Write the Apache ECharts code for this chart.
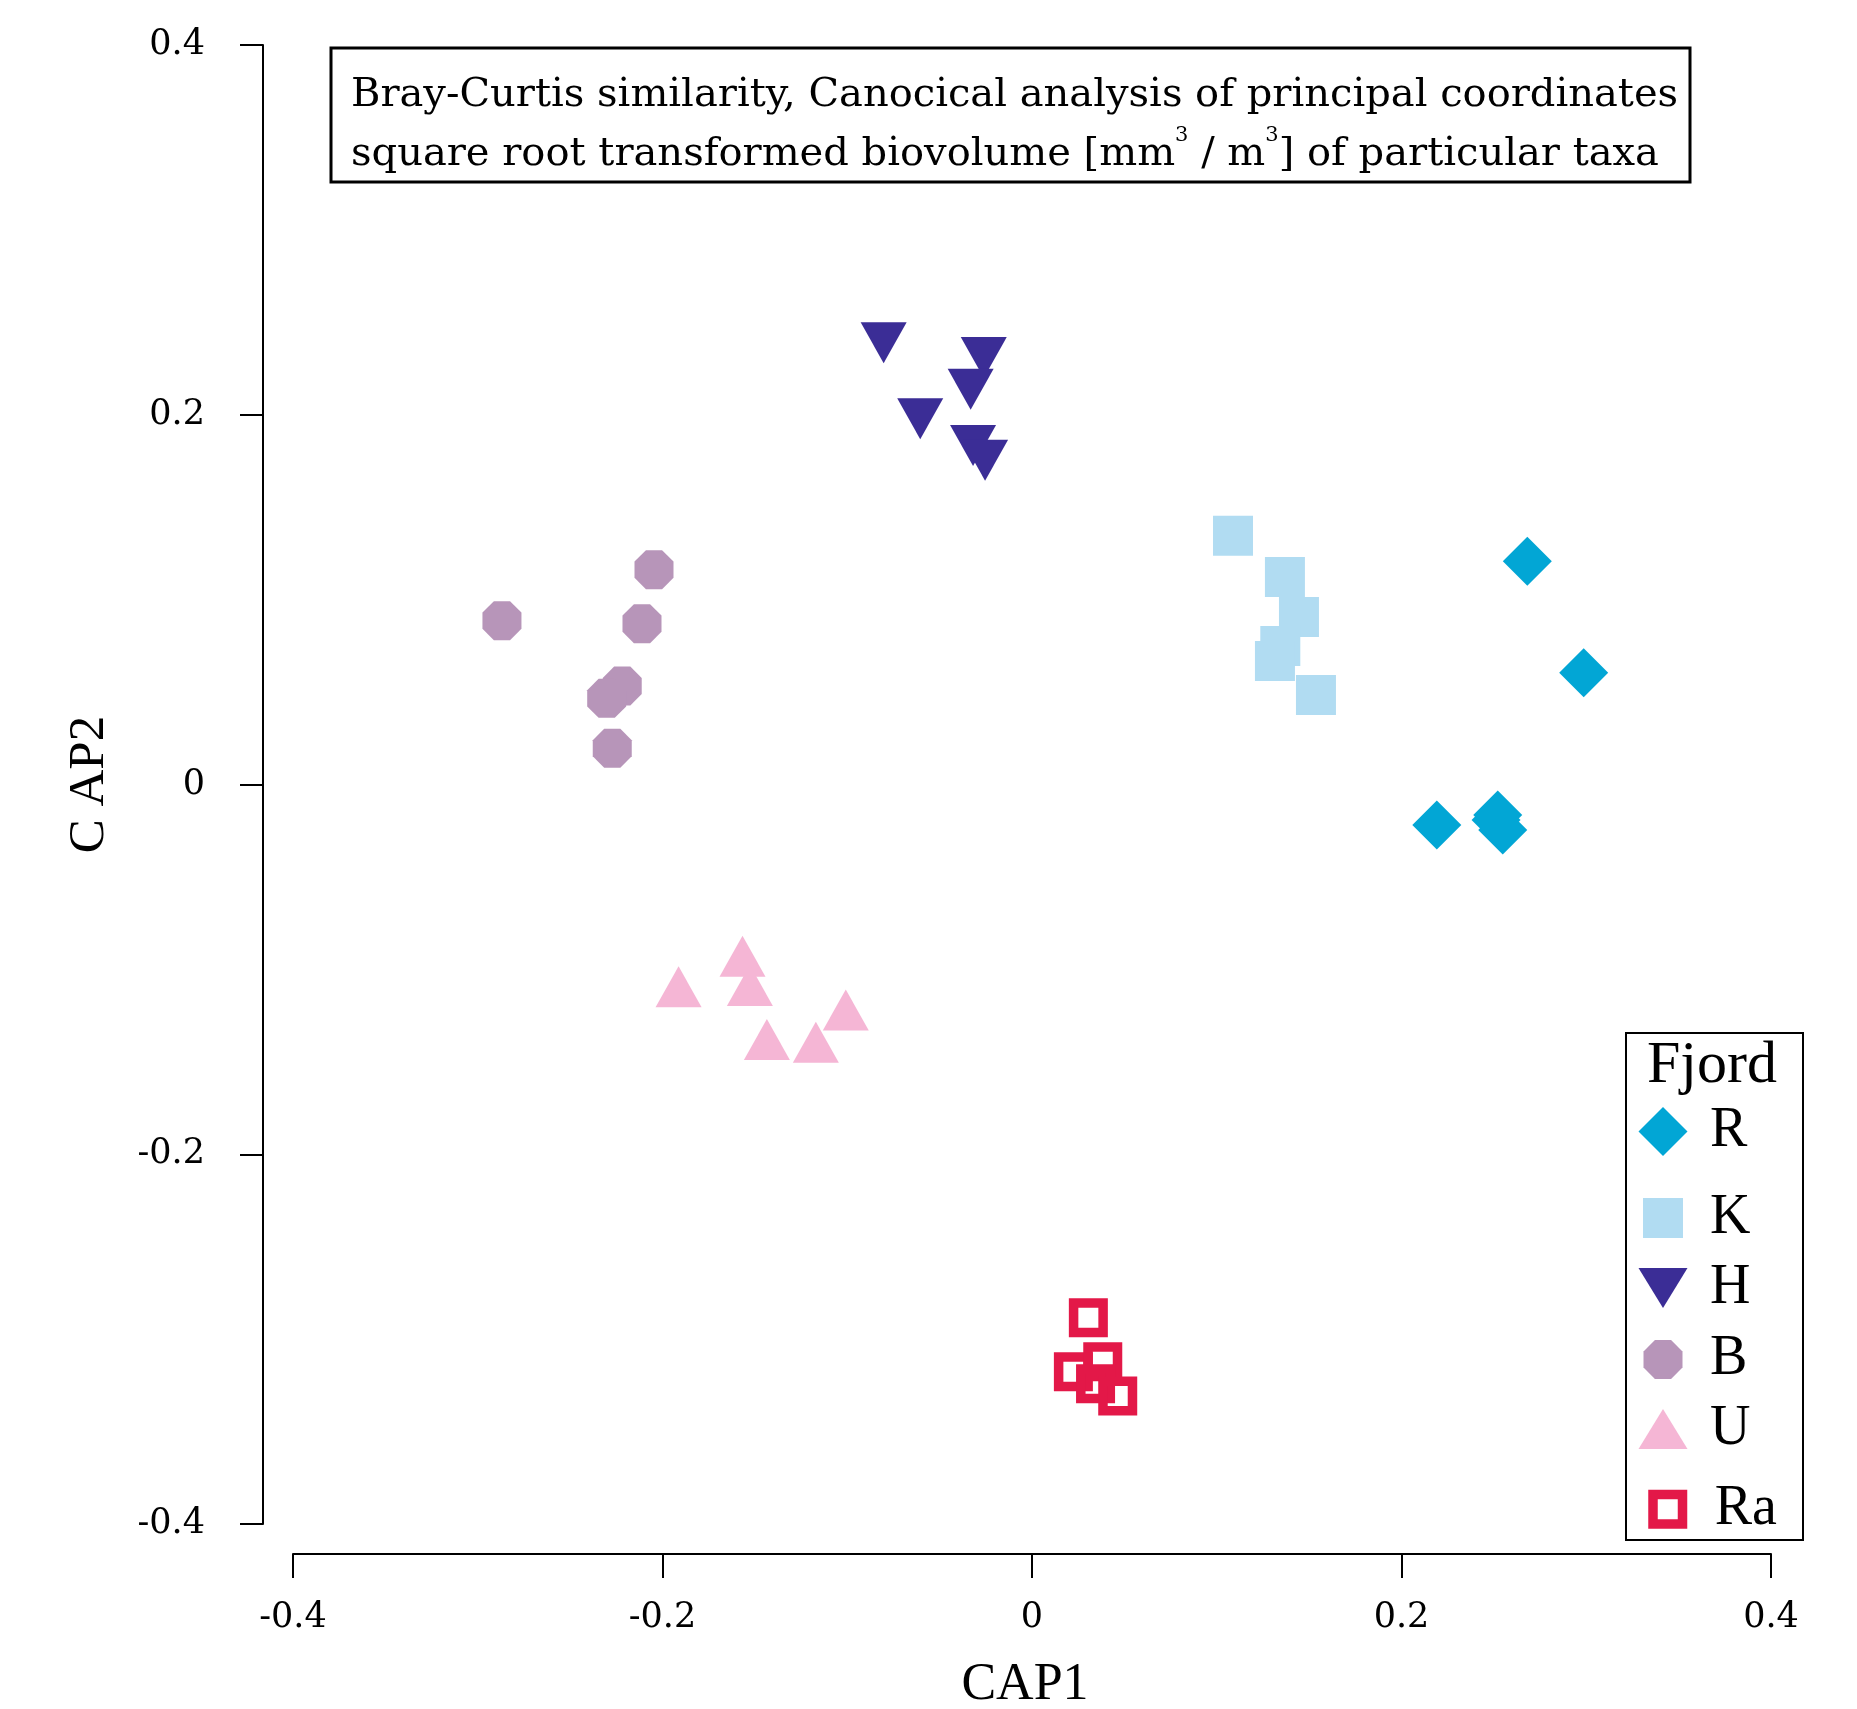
<!DOCTYPE html>
<html>
<head>
<meta charset="utf-8">
<script src="https://cdn.jsdelivr.net/npm/echarts@6/dist/echarts.min.js"></script>
<style>html,body{margin:0;padding:0;background:#fff;}#c{width:1857px;height:1709px;}</style>
</head>
<body>
<div id="c"></div>
<script>
// ---- data (CAP1, CAP2) ----
const fjords = ['R', 'K', 'H', 'B', 'U', 'Ra'];
const dataR  = [[0.2681, 0.1207], [0.2986, 0.0605], [0.2191, -0.0219], [0.2521, -0.0165], [0.2548, -0.0246], [0.2512, -0.0192]];
const dataK  = [[0.1088, 0.1346], [0.1369, 0.1122], [0.1445, 0.0906], [0.1344, 0.0749], [0.1315, 0.0668], [0.1537, 0.0484]];
const dataH  = [[-0.0803, 0.2390], [-0.0261, 0.2309], [-0.0332, 0.2138], [-0.0605, 0.1979], [-0.0319, 0.1833], [-0.0254, 0.1754]];
const dataB  = [[-0.2046, 0.1162], [-0.2869, 0.0886], [-0.2111, 0.0870], [-0.2218, 0.0533], [-0.2302, 0.0466], [-0.2272, 0.0196]];
const dataU  = [[-0.1913, -0.1094], [-0.1567, -0.0929], [-0.1527, -0.1087], [-0.1008, -0.1220], [-0.1435, -0.1379], [-0.1170, -0.1394]];
const dataRa = [[0.0305, -0.2885], [0.0224, -0.3176], [0.0383, -0.3122], [0.0344, -0.3241], [0.0464, -0.3307]];
const xTicks = [-0.4, -0.2, 0, 0.2, 0.4];
const yTicks = [-0.4, -0.2, 0, 0.2, 0.4];
const titleLines = ['Bray-Curtis similarity, Canocical analysis of principal coordinates',
                    'square root transformed biovolume [mm{sup|3} / m{sup|3}] of particular taxa'];
const xName = 'CAP1';
const yName = 'C AP2';
const legendTitle = 'Fjord';

const FONT = '"Liberation Serif", "Times New Roman", serif';
const TFONT = '"DejaVu Serif", serif';
const colors = {R: '#02a6d5', K: '#b1dcf2', H: '#3b2d96', B: '#b795b9', U: '#f5b6d5', Ra: '#e31848'};
const octagon = 'path://M192.4,138.3L138.3,192.4L61.7,192.4L7.6,138.3L7.6,61.7L61.7,7.6L138.3,7.6L192.4,61.7Z';
const triDown = 'path://M0,0L49,0L24.5,40Z';
const triUp = 'path://M0,40L24.5,0L49,40Z';
const raStyle = {color: 'rgba(0,0,0,0)', borderColor: colors.Ra, borderWidth: 9.5, opacity: 1};

const styleMap = {
  R:  {symbol: 'diamond', symbolSize: 49, itemStyle: {color: colors.R, opacity: 1}},
  K:  {symbol: 'rect', symbolSize: 40, itemStyle: {color: colors.K, opacity: 1}},
  H:  {symbol: triDown, symbolSize: [46, 41], itemStyle: {color: colors.H, opacity: 1}},
  B:  {symbol: octagon, symbolSize: 39, itemStyle: {color: colors.B, opacity: 1}},
  U:  {symbol: triUp, symbolSize: [46, 41], itemStyle: {color: colors.U, opacity: 1}},
  Ra: {symbol: 'rect', symbolSize: 29.5, itemStyle: raStyle}
};
const dataMap = {R: dataR, K: dataK, H: dataH, B: dataB, U: dataU, Ra: dataRa};

const series = fjords.map(f => Object.assign({
  name: f, type: 'scatter', data: dataMap[f], clip: false,
  emphasis: {disabled: true}, z: 2
}, styleMap[f]));

// legend layout: one legend per entry (icon centre x = 1663, text start x = 1710)
const legendRows = [
  {name: 'R',  cy: 1128, icon: 'diamond', w: 49, h: 49},
  {name: 'K',  cy: 1210, icon: 'rect', w: 40, h: 40},
  {name: 'H',  cy: 1280, icon: triDown, w: 49, h: 40},
  {name: 'B',  cy: 1351, icon: octagon, w: 39, h: 39},
  {name: 'U',  cy: 1421, icon: triUp, w: 49, h: 40},
  {name: 'Ra', cy: 1496, icon: 'rect', w: 29.5, h: 29.5}
];
const legends = legendRows.map(r => {
  const item = {name: r.name, icon: r.icon};
  if (r.name === 'Ra') item.itemStyle = raStyle;
  const pad = 1710 - (1663 + r.w / 2 + 5);
  return {
    data: [item],
    orient: 'vertical', left: 1663 - r.w / 2, top: r.cy - r.h / 2, padding: 0,
    itemWidth: r.w, itemHeight: r.h,
    selectedMode: false,
    formatter: n => '{t|' + n + '}',
    textStyle: {fontFamily: FONT, fontSize: 56, color: '#000',
      rich: {t: {fontFamily: FONT, fontSize: 56, color: '#000', padding: [0, 0, 0, pad]}}}
  };
});

const chart = echarts.init(document.getElementById('c'), null, {renderer: 'canvas'});
chart.setOption({
  backgroundColor: '#fff',
  animation: false,
  title: {
    text: titleLines.join('\n'),
    left: 351, top: 66,
    padding: 0,
    textStyle: {
      fontFamily: TFONT, fontSize: 40, fontWeight: 'normal', color: '#000', lineHeight: 59,
      rich: {sup: {fontFamily: TFONT, fontSize: 21, verticalAlign: 'top', lineHeight: 59}}
    }
  },
  legend: legends,
  grid: {left: 293, top: 45, width: 1478, height: 1479, containLabel: false, outerBoundsMode: 'none'},
  xAxis: {
    type: 'value', min: xTicks[0], max: xTicks[xTicks.length - 1], interval: 0.2,
    position: 'bottom', offset: 30,
    name: xName, nameLocation: 'middle', nameGap: 105,
    nameTextStyle: {fontFamily: FONT, fontSize: 52, color: '#000', padding: [0, 14, 0, 0]},
    axisLine: {show: true, onZero: false, lineStyle: {color: '#000', width: 2}},
    axisTick: {show: true, length: 24, lineStyle: {color: '#000', width: 2}},
    axisLabel: {fontFamily: TFONT, fontSize: 35, color: '#000', margin: 46,
      formatter: v => String(Math.round(v * 10) / 10)},
    splitLine: {show: false}
  },
  yAxis: {
    type: 'value', min: yTicks[0], max: yTicks[yTicks.length - 1], interval: 0.2,
    position: 'left', offset: 30,
    name: yName, nameLocation: 'middle', nameGap: 148, nameRotate: 90,
    nameTextStyle: {fontFamily: FONT, fontSize: 51, color: '#000'},
    axisLine: {show: true, onZero: false, lineStyle: {color: '#000', width: 2}},
    axisTick: {show: true, length: 23, lineStyle: {color: '#000', width: 2}},
    axisLabel: {fontFamily: TFONT, fontSize: 35, color: '#000', margin: 58,
      formatter: v => String(Math.round(v * 10) / 10)},
    splitLine: {show: false}
  },
  graphic: [
    {type: 'rect', shape: {x: 331, y: 48, width: 1359, height: 134},
     style: {fill: 'none', stroke: '#000', lineWidth: 3}, z: 1},
    {type: 'rect', shape: {x: 1626, y: 1033, width: 177, height: 507},
     style: {fill: 'none', stroke: '#000', lineWidth: 2}, z: 1},
    {type: 'text', x: 1647, y: 1066,
     style: {text: legendTitle, fontFamily: FONT, fontSize: 60, fill: '#000', verticalAlign: 'middle'}, z: 3}
  ],
  series: series
});
</script>
</body>
</html>
